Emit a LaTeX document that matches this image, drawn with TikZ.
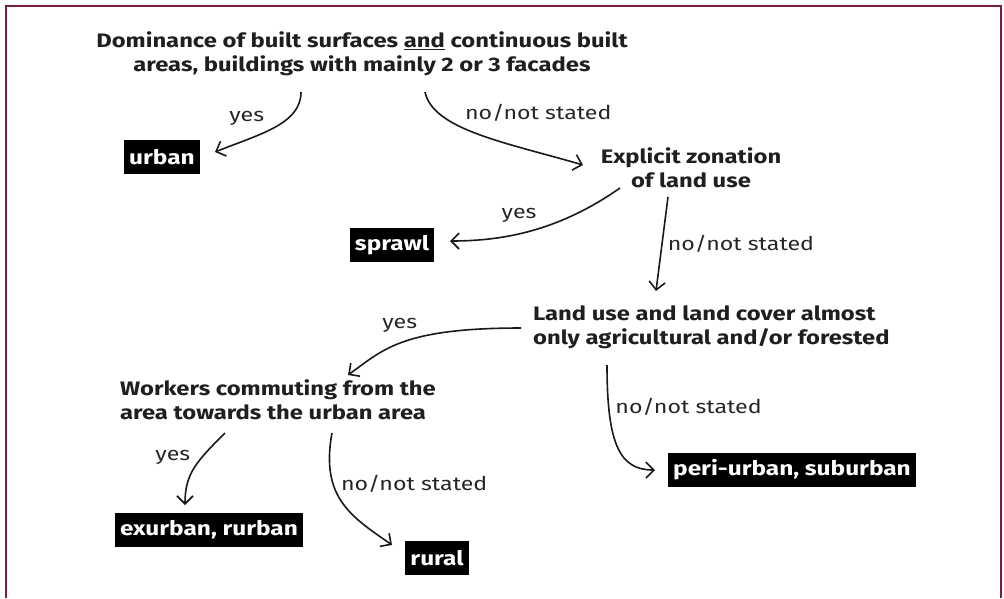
\documentclass[tikz,border=0pt]{standalone}
\usepackage{fontspec}
\setmainfont{Fira Sans}
\newfontfamily\handfont[FakeStretch=1.22]{Fira Sans}
\usetikzlibrary{arrows, arrows.meta, calc}
\definecolor{framered}{RGB}{122,32,56}

\begin{document}
\begin{tikzpicture}[x=1pt, y=1pt]
    \tikzstyle{question} = [align=center, inner sep=2pt, text=black!88, font=\handfont\fontsize{19.5}{24}\selectfont\bfseries]
    \tikzstyle{answer} = [rectangle, fill=black, text=white, inner sep=5pt, minimum height=34pt, font=\handfont\fontsize{20}{22}\selectfont\bfseries]
    \tikzstyle{lbl} = [inner sep=1pt, text=black!85, font=\handfont\fontsize{19}{20}\selectfont]
    \tikzstyle{arrow} = [line width=1.6pt, black!90, -{Straight Barb[length=8pt, width=16pt]}]
    \useasboundingbox (0,0) rectangle (1004,-598);
    % Frame
    \draw [framered, line width=2.5pt] (6,-598) -- (6,-6) -- (1001,-6) -- (1001,-598);
    % Nodes
    \node (dom) [question] at (362,-54) {Dominance of built surfaces \underline{and} continuous built\\ areas, buildings with mainly 2 or 3 facades};
    \node (urban) [answer] at (162,-157) {urban};
    \node (zone) [question] at (691,-168) {Explicit zonation\\ of land use};
    \node (sprawl) [answer] at (392,-245) {sprawl};
    \node (landuse) [question, align=left, anchor=west] at (531,-327) {Land use and land cover almost\\ only agricultural and/or forested};
    \node (workers) [question, align=left, anchor=west] at (118,-400) {Workers commuting from the\\ area towards the urban area};
    \node (exurban) [answer] at (209,-530) {exurban, rurban};
    \node (rural) [answer] at (437,-558) {rural};
    \node (peri) [answer] at (792,-470) {peri-urban, suburban};
    % Arrows
    \draw [arrow] ($(dom)+(-61,-38)$) .. controls +(0,-32) and +(45,18) .. node[lbl, pos=0.55, above left=4pt, yshift=-2pt] {yes} ($(urban)+(53,5)$);
    \draw [arrow] ($(dom)+(63,-38)$) .. controls +(8,-38) and +(-75,22) .. node[lbl, pos=0.1, anchor=west, xshift=34pt, yshift=-10pt] {no/not stated} ($(zone)+(-108,3)$);
    \draw [arrow] ($(zone)+(-71,-20)$) .. controls +(-60,-42) and +(55,0) .. node[lbl, pos=0.5, above=6pt, xshift=-14pt] {yes} ($(sprawl)+(58,4)$);
    \draw [arrow] ($(zone)+(-23,-29)$) -- node[lbl, right=4pt] {no/not stated} ($(landuse.west)+(125,36)$);
    \draw [arrow] ($(landuse.west)+(-10,-1)$) .. controls +(-120,0) and +(35,25) .. node[lbl, pos=0.55, above=7pt, xshift=4pt, yshift=3pt] {yes} ($(workers.west)+(230,25)$);
    \draw [arrow] ($(workers.west)+(107,-33)$) .. controls +(-28,-28) and +(0,32) .. node[lbl, pos=0.3, left=12pt, yshift=-3pt] {yes} ($(exurban)+(-24,25)$);
    \draw [arrow] ($(workers.west)+(214,-33)$) .. controls +(-12,-65) and +(-40,28) .. node[lbl, pos=0.33, right=6pt] {no/not stated} ($(rural)+(-45,13)$);
    \draw [arrow] ($(landuse.west)+(76,-38)$) .. controls +(0,-80) and +(-35,0) .. node[lbl, pos=0.2, right=5pt] {no/not stated} ($(peri)+(-137,0)$);
\end{tikzpicture}
\end{document}
